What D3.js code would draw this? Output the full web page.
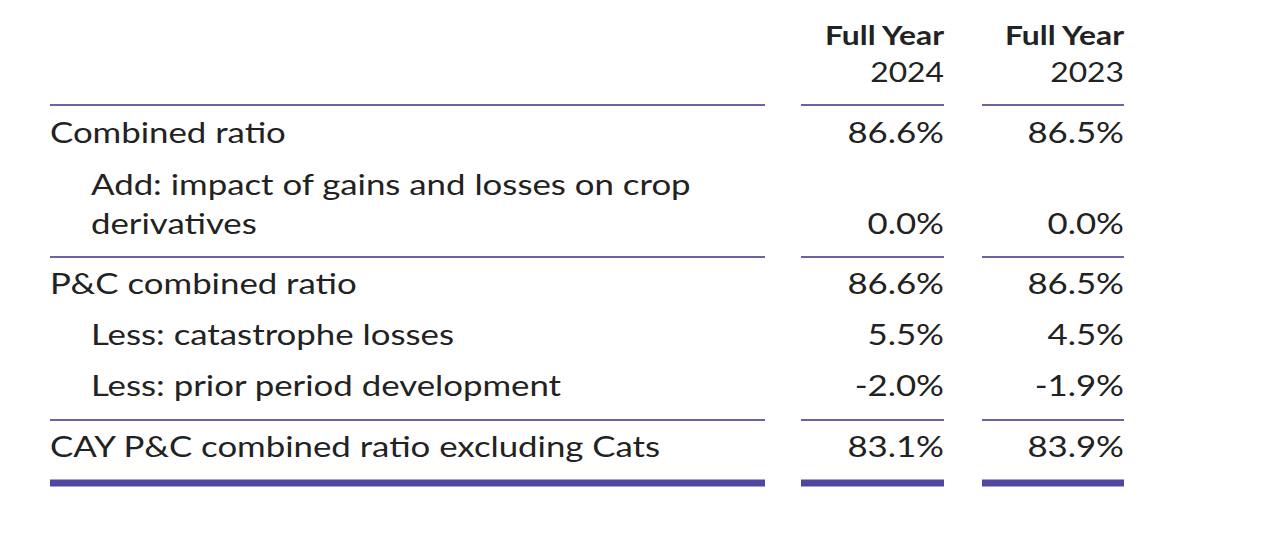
<!DOCTYPE html>
<html><head><meta charset="utf-8">
<script src="https://cdn.jsdelivr.net/npm/d3@7/dist/d3.min.js"></script>
<style>body{margin:0;background:#fff}svg{display:block}</style>
</head><body>
<svg id="c" width="1280" height="552"></svg>
<script>
const headers = [["Full Year","2024"],["Full Year","2023"]];
const labels = [["Combined ratio"],["Add: impact of gains and losses on crop","derivatives"],["P&C combined ratio"],["Less: catastrophe losses"],["Less: prior period development"],["CAY P&C combined ratio excluding Cats"]];
const indent = [0,1,0,1,1,0];
const values2024 = ["86.6%","0.0%","86.6%","5.5%","-2.0%","83.1%"];
const values2023 = ["86.5%","0.0%","86.5%","4.5%","-1.9%","83.9%"];

const svg = d3.select("#c");
const font = "Lato, 'Open Sans', sans-serif";
const textCol = "#222222";
const lineCol = "#6b62a9";
const thickCol = "#5045a0";
const fs = 29;
const sx = 1.2;

const cols = [{x0:50,x1:765},{x0:801,x1:944},{x0:982,x1:1124}];
const rowY = [133,[185,224],284,335,386,447];

function txt(x,y,t,size,weight,anchor){
  svg.append("text").attr("transform",`translate(${x},${y}) scale(${sx},1)`)
    .attr("dy","0.35em").attr("text-anchor",anchor||"start")
    .style("font-family",font).style("font-size",size+"px")
    .style("font-weight",weight||400).style("fill",textCol).text(t);
}

headers.forEach((h,i)=>{
  h.forEach((t,j)=>txt(cols[i+1].x1,[36,73][j],t,26.5,j===0?700:400,"end"));
});

function hline(y,w,c){
  cols.forEach(cl=>svg.append("rect").attr("x",cl.x0).attr("y",y-w/2).attr("width",cl.x1-cl.x0).attr("height",w).attr("fill",c));
}
hline(105,2,lineCol);

labels.forEach((ls,i)=>{
  const ys = Array.isArray(rowY[i])?rowY[i]:[rowY[i]];
  ls.forEach((t,j)=>txt(cols[0].x0+(indent[i]?41:0),ys[j],t,fs));
  const yv = ys[ys.length-1];
  [values2024,values2023].forEach((vs,k)=>txt(cols[k+1].x1,yv,vs[i],fs,400,"end"));
});
hline(257,2,lineCol);
hline(420,2,lineCol);
hline(483,7,thickCol);
</script>
</body></html>
